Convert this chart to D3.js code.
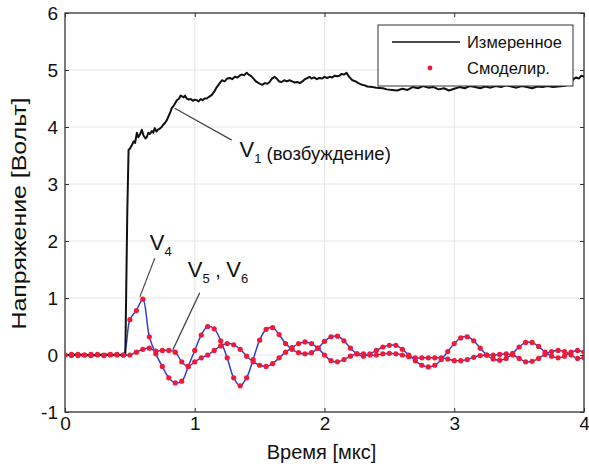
<!DOCTYPE html>
<html><head><meta charset="utf-8">
<script src="https://cdn.jsdelivr.net/npm/d3@7"></script>
<style>body{margin:0;background:#fff}svg{display:block}text{font-family:"Liberation Sans",Arial,sans-serif}</style>
</head><body><div id="chart"></div>
<script>
// ---- data ----
const xTicks = [0, 1, 2, 3, 4];
const yTicks = [-1, 0, 1, 2, 3, 4, 5, 6];
const legendLabels = ["Измеренное", "Смоделир."];
const xTitle = "Время [мкс]";
const yTitle = "Напряжение [Вольт]";

// measured excitation V1
const measT = [0,0.1,0.2,0.3,0.4,0.465,0.48,0.49,0.5,0.515,0.53,0.54,0.554,0.565,0.58,0.592,0.605,0.62,0.63,0.642,0.654,0.67,0.68,0.692,0.705,0.715,0.73,0.745,0.754,0.77,0.785,0.8,0.81,0.823,0.84,0.85,0.862,0.88,0.89,0.9,0.915,0.925,0.938,0.955,0.97,0.985,1.0,1.015,1.03,1.045,1.06,1.075,1.092,1.11,1.13,1.15,1.17,1.19,1.21,1.23,1.25,1.27,1.29,1.31,1.33,1.346,1.36,1.38,1.4,1.415,1.43,1.44,1.46,1.477,1.5,1.52,1.54,1.56,1.577,1.595,1.615,1.635,1.65,1.67,1.69,1.71,1.73,1.75,1.77,1.79,1.81,1.83,1.85,1.87,1.885,1.9,1.92,1.94,1.96,1.98,2.0,2.02,2.04,2.06,2.08,2.1,2.115,2.13,2.15,2.17,2.19,2.215,2.24,2.26,2.29,2.31,2.33,2.37,2.4,2.45,2.48,2.52,2.56,2.6,2.64,2.68,2.72,2.76,2.8,2.84,2.88,2.92,2.96,3.0,3.04,3.08,3.12,3.16,3.2,3.24,3.28,3.32,3.36,3.4,3.44,3.48,3.52,3.56,3.6,3.64,3.68,3.72,3.76,3.8,3.84,3.88,3.9,3.92,3.94,3.96,3.98,4.0];
const measV = [0,0.01,-0.01,0.01,0,0,2.5,3.6,3.62,3.68,3.75,3.72,3.9,3.82,3.88,3.95,3.85,3.8,3.82,3.9,3.88,3.93,3.9,3.98,3.92,3.95,3.97,4.0,4.03,4.07,4.12,4.2,4.25,4.33,4.38,4.42,4.47,4.5,4.55,4.54,4.52,4.55,4.5,4.48,4.49,4.46,4.48,4.47,4.45,4.49,4.47,4.5,4.5,4.53,4.56,4.62,4.7,4.76,4.82,4.8,4.85,4.86,4.84,4.88,4.87,4.9,4.92,4.91,4.95,4.92,4.9,4.88,4.83,4.79,4.76,4.74,4.77,4.76,4.79,4.85,4.88,4.84,4.8,4.79,4.82,4.8,4.82,4.8,4.78,4.79,4.77,4.8,4.84,4.86,4.88,4.85,4.87,4.84,4.86,4.85,4.88,4.86,4.88,4.87,4.9,4.89,4.9,4.93,4.92,4.95,4.88,4.82,4.8,4.77,4.74,4.73,4.71,4.7,4.69,4.68,4.66,4.65,4.64,4.67,4.65,4.7,4.68,4.72,4.69,4.7,4.66,4.68,4.64,4.67,4.7,4.68,4.72,4.7,4.68,4.71,4.69,4.72,4.7,4.73,4.71,4.69,4.72,4.7,4.68,4.71,4.7,4.72,4.7,4.71,4.72,4.74,4.78,4.84,4.87,4.85,4.9,4.88];

// response traces (time step 0.05 µs)
const respT = [0,0.05,0.1,0.15,0.2,0.25,0.3,0.35,0.4,0.45,0.5,0.55,0.6,0.65,0.7,0.75,0.8,0.85,0.9,0.95,1.0,1.05,1.1,1.15,1.2,1.25,1.3,1.35,1.4,1.45,1.5,1.55,1.6,1.65,1.7,1.75,1.8,1.85,1.9,1.95,2.0,2.05,2.1,2.15,2.2,2.25,2.3,2.35,2.4,2.45,2.5,2.55,2.6,2.65,2.7,2.75,2.8,2.85,2.9,2.95,3.0,3.05,3.1,3.15,3.2,3.25,3.3,3.35,3.4,3.45,3.5,3.55,3.6,3.65,3.7,3.75,3.8,3.85,3.9,3.95,4.0];
const v4 = [0,0.01,-0.01,0,0.01,0,-0.01,0.01,0,0,0.62,0.78,0.98,0.32,0.02,-0.2,-0.4,-0.49,-0.46,-0.2,0.08,0.35,0.5,0.46,0.25,-0.05,-0.4,-0.54,-0.4,-0.08,0.26,0.45,0.48,0.36,0.2,0.1,0.04,0.02,0.04,0.12,0.24,0.32,0.33,0.25,0.12,0.02,-0.02,0.02,0.08,0.14,0.17,0.17,0.1,0.0,-0.1,-0.18,-0.21,-0.18,-0.08,0.06,0.2,0.3,0.32,0.25,0.12,0.0,-0.07,-0.09,-0.06,0.03,0.14,0.22,0.22,0.15,0.05,-0.02,-0.05,-0.02,0.05,0.08,0.05];
const v56 = [0,-0.01,0.01,0,-0.01,0.01,0,0,0.01,0,0,0.05,0.1,0.12,0.07,0.08,0.08,0.05,-0.12,-0.2,-0.12,-0.05,0.0,0.08,0.16,0.2,0.18,0.1,-0.02,-0.12,-0.18,-0.2,-0.15,-0.05,0.05,0.13,0.2,0.23,0.2,0.12,0.0,-0.1,-0.12,-0.08,-0.02,0.02,0.02,0.0,0.0,0.02,0.03,0.02,0.0,-0.03,-0.05,-0.05,-0.05,-0.05,-0.05,-0.07,-0.1,-0.1,-0.08,-0.04,-0.01,0.0,0.0,0.01,0.02,0.0,-0.06,-0.12,-0.11,-0.06,0.01,0.06,0.08,0.06,0.0,-0.06,-0.05];

// annotations (data coords)
const annotations = [
  {label:"V", sub:"1", extra:" (возбуждение)", from:[0.846,4.33], to:[1.285,3.77], at:[1.345,3.48]},
  {label:"V", sub:"4", extra:"", from:[0.692,1.70], to:[0.577,1.02], at:[0.654,1.84]},
  {label:"V", sub:"5", extra:"", label2:"V", sub2:"6", from:[1.038,1.09], to:[0.831,0.09], at:[0.946,1.37]}
];

// ---- drawing ----
const W = 589, H = 472;
const svg = d3.select("#chart").append("svg").attr("width", W).attr("height", H);
const x = d3.scaleLinear().domain([0, 4]).range([65, 584]);
const y = d3.scaleLinear().domain([-1, 6]).range([412, 13]);

// grid
svg.append("g").selectAll("line").data(yTicks.slice(1, -1)).join("line")
  .attr("x1", x(0)).attr("x2", x(4)).attr("y1", d => y(d)).attr("y2", d => y(d))
  .attr("stroke", "#e6e6e6").attr("stroke-width", 1);
svg.append("g").selectAll("line").data(xTicks.slice(1, -1)).join("line")
  .attr("y1", y(-1)).attr("y2", y(6)).attr("x1", d => x(d)).attr("x2", d => x(d))
  .attr("stroke", "#e6e6e6").attr("stroke-width", 1);

// axes
const fmt = d => String(d);
const xAxis = d3.axisBottom(x).tickValues(xTicks).tickSize(-4).tickPadding(5).tickFormat(fmt);
const yAxis = d3.axisLeft(y).tickValues(yTicks).tickSize(-4).tickPadding(7).tickFormat(fmt);
const xAxisTop = d3.axisTop(x).tickValues(xTicks).tickSize(-4).tickFormat("");
const yAxisRight = d3.axisRight(y).tickValues(yTicks).tickSize(-4).tickFormat("");
const gx = svg.append("g").attr("transform", `translate(0,${y(-1)})`).call(xAxis);
const gy = svg.append("g").attr("transform", `translate(${x(0)},0)`).call(yAxis);
const gxt = svg.append("g").attr("transform", `translate(0,${y(6)})`).call(xAxisTop);
const gyr = svg.append("g").attr("transform", `translate(${x(4)},0)`).call(yAxisRight);
[gx, gy, gxt, gyr].forEach(g => {
  g.select(".domain").remove();
  g.selectAll(".tick line").attr("stroke", "#333");
  g.selectAll(".tick text").attr("font-size", 19).attr("fill", "#111").attr("font-family", '"Liberation Sans", Arial, sans-serif');
});
// box
svg.append("rect").attr("x", x(0)).attr("y", y(6)).attr("width", x(4) - x(0)).attr("height", y(-1) - y(6))
  .attr("fill", "none").attr("stroke", "#333").attr("stroke-width", 1.3);

// titles
svg.append("text").attr("x", (x(0) + x(4)) / 2 - 3).attr("y", 459).attr("text-anchor", "middle")
  .attr("font-size", 20).attr("fill", "#111").text(xTitle);
svg.append("text").attr("transform", `translate(26,${(y(-1) + y(6)) / 2 + 1}) rotate(-90)`).attr("text-anchor", "middle")
  .attr("font-size", 20.5).attr("textLength", 232).attr("lengthAdjust", "spacingAndGlyphs")
  .attr("fill", "#111").text(yTitle);

// clip
svg.append("clipPath").attr("id", "clip").append("rect")
  .attr("x", x(0)).attr("y", y(6)).attr("width", x(4) - x(0)).attr("height", y(-1) - y(6));
const plot = svg.append("g").attr("clip-path", "url(#clip)");

const measured = measT.map((t, i) => [t, measV[i]]);
const line = d3.line().x(d => x(d[0])).y(d => y(d[1]));
const smooth = d3.line().x(d => x(d[0])).y(d => y(d[1])).curve(d3.curveCatmullRom.alpha(0.5));

const s4 = respT.map((t, i) => [t, v4[i]]);
const s56 = respT.map((t, i) => [t, v56[i]]);
[s56, s4].forEach(s => {
  plot.append("path").datum(s).attr("d", smooth).attr("fill", "none").attr("stroke", "#3340d6").attr("stroke-width", 1.5);
});
plot.append("path").datum(measured).attr("d", line).attr("fill", "none").attr("stroke", "#111").attr("stroke-width", 2).attr("stroke-linejoin", "round");
[s56, s4].forEach(s => {
  plot.append("g").selectAll("circle").data(s).join("circle")
    .attr("cx", d => x(d[0])).attr("cy", d => y(d[1])).attr("r", 2.6).attr("fill", "#ee1a36");
});

// annotations
annotations.forEach(a => {
  svg.append("line").attr("x1", x(a.from[0])).attr("y1", y(a.from[1])).attr("x2", x(a.to[0])).attr("y2", y(a.to[1]))
    .attr("stroke", "#444").attr("stroke-width", 1.2);
  const t = svg.append("text").attr("x", x(a.at[0])).attr("y", y(a.at[1])).attr("fill", "#111");
  t.append("tspan").attr("font-size", 22).text(a.label);
  t.append("tspan").attr("font-size", 13).attr("dy", 6).text(a.sub);
  if (a.label2) {
    t.append("tspan").attr("font-size", 20).attr("dy", -6).text(" , ");
    t.append("tspan").attr("font-size", 22).text(a.label2);
    t.append("tspan").attr("font-size", 13).attr("dy", 6).text(a.sub2);
  }
  if (a.extra) t.append("tspan").attr("font-size", 18.5).attr("dy", -3).text(a.extra);
});

// legend
const lg = svg.append("g");
lg.append("rect").attr("x", 378).attr("y", 25).attr("width", 195).attr("height", 61)
  .attr("fill", "#fff").attr("stroke", "#333").attr("stroke-width", 1);
lg.append("line").attr("x1", 392).attr("x2", 460).attr("y1", 42).attr("y2", 42).attr("stroke", "#111").attr("stroke-width", 1.6);
lg.append("circle").attr("cx", 430).attr("cy", 68).attr("r", 2.4).attr("fill", "#ee1a36");
lg.selectAll("text.lt").data(legendLabels).join("text").attr("class", "lt")
  .attr("x", 467).attr("y", (d, i) => 48 + i * 26).attr("font-size", 16.5).attr("fill", "#111").text(d => d);
</script></body></html>
